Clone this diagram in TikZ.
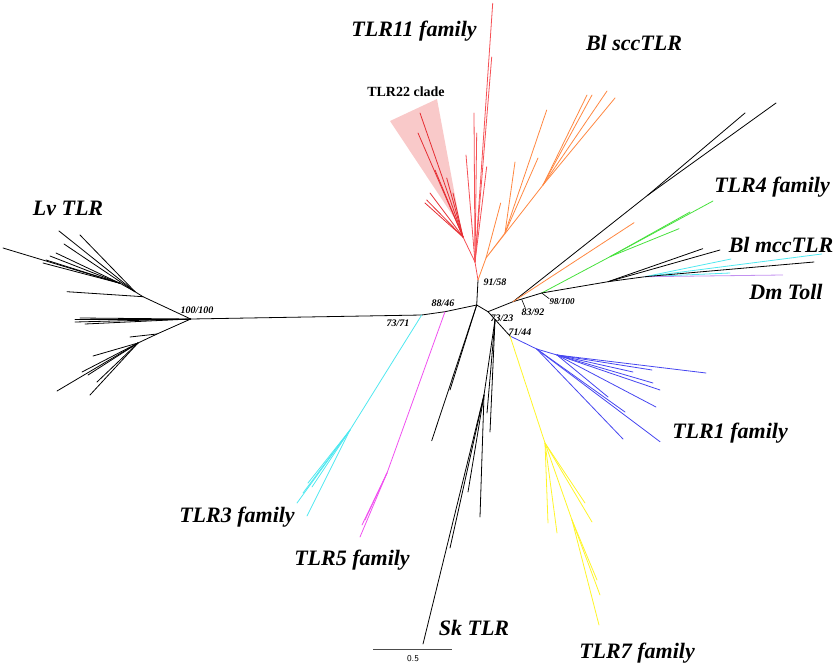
\documentclass[tikz,border=0pt]{standalone}
\usepackage{fontspec}
\setmainfont{Liberation Serif}
\usetikzlibrary{calc}

\definecolor{tlrred}{RGB}{245,80,85}
\definecolor{tlrdark}{RGB}{230,45,50}
\definecolor{tlrorange}{RGB}{255,135,65}
\definecolor{tlrgreen}{RGB}{70,225,60}
\definecolor{tlrcyan}{RGB}{80,232,240}
\definecolor{tlrpurple}{RGB}{195,145,240}
\definecolor{tlrblue}{RGB}{70,70,240}
\definecolor{tlryellow}{RGB}{255,245,40}
\definecolor{tlrmagenta}{RGB}{240,80,240}
\definecolor{tlrshade}{RGB}{248,192,192}

% leaves hanging from one inner node: parent, prefix, style, x/y list
\newcommand\twigs[4]{%
  \foreach \x/\y [count=\i] in {#4} {%
    \coordinate (#2\i) at (\x,\y);
    \draw [clade,#3] (#1) -- (#2\i);
  }}

\tikzset{
  clade/.style={line width=0.8pt,line cap=round},
  famlabel/.style={font=\fontsize{22}{26}\selectfont\bfseries\itshape,inner sep=0pt},
  support/.style={font=\fontsize{10}{12}\selectfont\bfseries\itshape,inner sep=0pt},
}

\begin{document}
\begin{tikzpicture}[x=1pt,y=-1pt]
\useasboundingbox (0,0) rectangle (835,667);

% shaded TLR22 clade
\fill [tlrshade,opacity=0.85] (390,121) -- (437,99) -- (461,228) -- cycle;

% backbone
\coordinate (lv) at (190.7,319);
\coordinate (n7371) at (421.7,315);
\coordinate (n8846) at (445,311.7);
\coordinate (ctr) at (476.7,305);
\coordinate (n9158) at (478,280);
\coordinate (n7323) at (488,311.7);
\coordinate (n8392) at (513,301.7);
\coordinate (n98100) at (541.7,293);
\coordinate (n7144) at (510,336);
\coordinate (sk) at ($(n7323)!0.32!(n7144)$);
\draw [clade] (lv) -- (n7371) -- (n8846) -- (ctr) -- (n9158);
\draw [clade] (ctr) -- (n7323) -- (n8392) -- (n98100);
\draw [clade] (n7323) -- (n7144);

% Lv TLR
\coordinate (lv1) at (143,296.7);
\coordinate (lv2) at (135,291.7);
\coordinate (lv3) at (120,283.3);
\coordinate (lv4) at (157,334);
\coordinate (lv5) at (138,343);
\draw [clade] (lv) -- (lv1) -- (lv2) -- (lv3);
\draw [clade] (lv) -- (lv4) -- (lv5);
\twigs{lv1}{lva}{}{67/291.7}
\twigs{lv2}{lvb}{}{59/231,80/235,64/244}
\twigs{lv3}{lvc}{}{3/248,50/256,56/253,43/263,46/260}
\twigs{lv}{lvd}{}{75/319,75/322,85/324,80/318}
\twigs{lv4}{lve}{}{130/337}
\twigs{lv5}{lvf}{}{93/356,57/391,82/372,90/395,97/382,88/375}

% TLR11 family
\coordinate (r1) at (475,262);
\coordinate (r22) at (463,237);
\draw [clade,tlrred] (n9158) -- (r1) -- (r22);
\twigs{r1}{ra}{tlrred}{492.7/3.3,491.7/57,474/113,466/155,486.7/166.7,476.7/133}
\twigs{r22}{rb}{tlrdark}{420/113,418/133,426.7/200,425/203,430/193,446.7/178,453/193,435/170}

% Bl sccTLR
\coordinate (o1) at (486,258);
\coordinate (o2) at (505,233);
\coordinate (o3) at (543,185);
\draw [clade,tlrorange] (n9158) -- (o1) -- (o2) (o1) -- (o3);
\twigs{o1}{oa}{tlrorange}{500.7/203}
\twigs{o2}{ob}{tlrorange}{515/162,546.7/110,538/158}
\twigs{o3}{oc}{tlrorange}{587/95,592/95,607/91,615/98}

% TLR4 family, Bl mccTLR, Dm Toll
\coordinate (k1) at (648,195);
\coordinate (g1) at (610,256.7);
\coordinate (m1) at (608,281.7);
\coordinate (m2) at (645,276.7);
\draw [clade] (n8392) -- (k1);
\twigs{k1}{ka}{}{745/113,776/103}
\twigs{n8392}{oz}{tlrorange}{634/222.7}
\draw [clade,tlrgreen] (n98100) -- (g1);
\twigs{g1}{ga}{tlrgreen}{713/201,690/212,679/228.7}
\draw [clade] (n98100) -- (m1) -- (m2);
\twigs{m1}{ma}{}{702.7/248.7,720/250}
\twigs{m2}{mb}{tlrcyan}{731/259,821.7/254,730/273}
\twigs{m2}{mc}{tlrpurple}{782.7/275}
\twigs{m2}{md}{}{814/262}

% TLR1 family
\coordinate (b0) at (536.7,349);
\coordinate (b1) at (557,355);
\draw [clade,tlrblue] (n7144) -- (b0) -- (b1);
\twigs{b0}{ba}{tlrblue}{623/439,660/441.7,625/412}
\twigs{b1}{bb}{tlrblue}{706/373,660/390,656/407,653/383,633/372,652/370,608/397}

% TLR7 family
\coordinate (y0) at (545,443);
\coordinate (y1) at (572,520);
\draw [clade,tlryellow] (n7144) -- (y0) -- (y1);
\twigs{y0}{ya}{tlryellow}{548/523,557/533,585/503,592/522}
\twigs{y1}{yb}{tlryellow}{600/595,599/625,597/580}

% Sk TLR
\coordinate (sa) at (484,395);
\draw [clade] (sk) -- (sa);
\twigs{ctr}{sb}{}{431.7/440.7,450/390}
\twigs{sk}{sc}{}{490/432,487/413}
\twigs{sa}{sd}{}{423/644,450/548,468/492,480/517}

% TLR3 and TLR5 families
\coordinate (c1) at (350,430);
\coordinate (p1) at (387,473);
\draw [clade,tlrcyan] (n7371) -- (c1);
\twigs{c1}{ca}{tlrcyan}{297/503,307/516,308/483,312/487,303/493}
\draw [clade,tlrmagenta] (n8846) -- (p1);
\twigs{p1}{pa}{tlrmagenta}{362/525,360/537,365/520}

% support values
\node [support] (s100) at (197,310) {100/100};
\node [support] (s7371) at (398,323) {73/71};
\node [support] (s8846) at (443,303) {88/46};
\node [support] (s9158) at (495,282) {91/58};
\node [support] (s7323) at (502,318) {73/23};
\node [support] (s8392) at (533,312) {83/92};
\node [support,font=\fontsize{9}{11}\selectfont\bfseries\itshape] (s98100) at (562,302) {98/100};
\node [support] (s7144) at (520,332) {71/44};
\draw [line width=0.6pt] ($(s8392.north west)+(4,0)$) -- ($(n8392)!0.3!(n98100)$);
\draw [line width=0.6pt] (s98100.north west) -- (n98100);

% family labels
\node [famlabel] (tlr11) at (414,31) {TLR11 family};
\node [famlabel] (blscc) at (634,43) {Bl sccTLR};
\node [font=\fontsize{14}{16}\selectfont\bfseries,inner sep=0pt] (tlr22) at (406,92) {TLR22 clade};
\node [famlabel] (lvtlr) at (68,208) {Lv TLR};
\node [famlabel] (tlr4) at (772,187) {TLR4 family};
\node [famlabel] (blmcc) at (781,245) {Bl mccTLR};
\node [famlabel] (dmtoll) at (786,292) {Dm Toll};
\node [famlabel] (tlr1) at (730,433) {TLR1 family};
\node [famlabel] (tlr3) at (237,517) {TLR3 family};
\node [famlabel] (tlr5) at (352,560) {TLR5 family};
\node [famlabel] (sktlr) at (474,628) {Sk TLR};
\node [famlabel] (tlr7) at (637,653) {TLR7 family};

% scale bar
\coordinate (sb0) at (373,649);
\coordinate (sb1) at (451.7,649);
\draw [line width=0.8pt,black!70] (sb0) -- (sb1);
\node [font=\sffamily\fontsize{9}{10}\selectfont,inner sep=0pt] (sbl) at (413,659) {0.5};
\end{tikzpicture}
\end{document}
